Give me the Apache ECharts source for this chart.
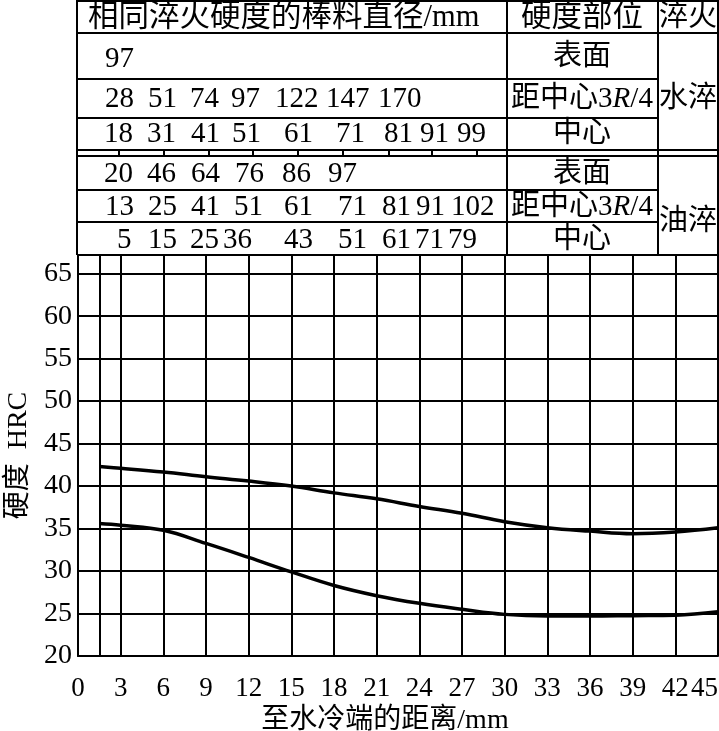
<!DOCTYPE html>
<html><head><meta charset="utf-8">
<script src="https://cdn.jsdelivr.net/npm/echarts@6/dist/echarts.min.js"></script>
<style>html,body{margin:0;padding:0;background:#fff}#c{width:719px;height:731px}</style>
</head><body><div id="c"></div>
<script>
// ---- data ----
const distances = [1.5, 3, 6, 9, 12, 15, 18, 21, 24, 27, 30, 33, 36, 39, 42, 45];
const upperHRC  = [42.3, 42.1, 41.65, 41.1, 40.6, 40.0, 39.2, 38.5, 37.6, 36.8, 35.8, 35.1, 34.7, 34.4, 34.6, 35.1];
const lowerHRC  = [35.6, 35.4, 34.8, 33.25, 31.6, 29.9, 28.3, 27.1, 26.2, 25.5, 24.9, 24.7, 24.7, 24.75, 24.8, 25.2];

const headerDiam = '相同淬火硬度的棒料直径/mm';
const headerPos = '硬度部位';
const headerQuench = '淬火';
const waterSurface = ['97'];
const waterR34 = ['28', '51', '74', '97', '122', '147', '170'];
const waterCenter = ['18', '31', '41', '51', '61', '71', '81', '91', '99'];
const oilSurface = ['20', '46', '64', '76', '86', '97'];
const oilR34 = ['13', '25', '41', '51', '61', '71', '81', '91', '102'];
const oilCenter = ['5', '15', '25', '36', '43', '51', '61', '71', '79'];
const posLabels = ['表面', '距中心3R/4', '中心'];
const quenchLabels = ['水淬', '油淬'];

// ---- layout (pixel positions of table text) ----
const L = {
  waterSurface: [105],
  waterR34: [105, 148, 190, 231, 275, 326, 378],
  waterCenter: [104, 147, 191, 232, 284, 336, 384, 420, 457],
  oilSurface: [104, 147, 191, 235, 282, 328],
  oilR34: [105, 148, 191, 234, 284, 338, 382, 416, 451],
  oilCenter: [117, 148, 190, 223, 284, 338, 382, 415, 448]
};
const rowY = { ws: 59, wr: 99, wc: 134, os: 174, or: 207, oc: 240 };
const dblTicks = [119, 164, 209, 253, 298, 343, 389, 432, 477];

const SERIF = '"Liberation Serif", "Noto Sans CJK SC", serif';
const lineStyle = { stroke: '#000', lineWidth: 2 };
const els = [];
function ln(x1, y1, x2, y2) {
  els.push({ type: 'line', z: 100, silent: true, shape: { x1, y1, x2, y2 }, style: lineStyle });
}
function tx(text, x, y, size, align, extra) {
  els.push({ type: 'text', z: 101, silent: true, x, y,
    style: Object.assign({ text, fontSize: size, fontFamily: SERIF, fill: '#000',
      align: align || 'left', verticalAlign: 'middle' }, extra || {}) });
}
// table lines
ln(77, 1, 719, 1);
ln(77, 33, 719, 33);
ln(77, 79, 658, 79);
ln(77, 118, 658, 118);
ln(77, 150, 719, 150);
ln(77, 156, 719, 156);
ln(77, 190, 658, 190);
ln(77, 222, 658, 222);
ln(77, 255, 719, 255);
ln(77, 0, 77, 255);
ln(507, 0, 507, 255);
ln(658, 0, 658, 255);
ln(718, 0, 718, 255);
dblTicks.forEach(x => ln(x, 150, x, 156));

// header
tx(headerDiam, 88, 18, 30.5);
tx(headerPos, 582, 18, 30.5, 'center');
tx(headerQuench, 688, 18, 29, 'center');
// numbers
const NUM = 29;
function row(vals, xs, y) { vals.forEach((v, i) => tx(v, xs[i], y, NUM)); }
row(waterSurface, L.waterSurface, rowY.ws);
row(waterR34, L.waterR34, rowY.wr);
row(waterCenter, L.waterCenter, rowY.wc);
row(oilSurface, L.oilSurface, rowY.os);
row(oilR34, L.oilR34, rowY.or);
row(oilCenter, L.oilCenter, rowY.oc);
// position labels
const rich = { c: { fontSize: 29, fontFamily: SERIF }, n: { fontSize: 29, fontFamily: SERIF },
  i: { fontSize: 29, fontFamily: SERIF, fontStyle: 'italic' } };
function posLabel(label, y) {
  if (label.indexOf('3R/4') >= 0) {
    tx('{c|距中心}{n|3}{i|R}{n|/4}', 582, y, 29, 'center', { rich });
  } else {
    tx(label, 582, y, 29, 'center');
  }
}
posLabel(posLabels[0], rowY.ws - 2);
posLabel(posLabels[1], rowY.wr);
posLabel(posLabels[2], rowY.wc);
posLabel(posLabels[0], rowY.os);
posLabel(posLabels[1], rowY.or);
posLabel(posLabels[2], rowY.oc);
tx(quenchLabels[0], 688, 99, 29, 'center');
tx(quenchLabels[1], 688, 222, 29, 'center');

const chart = echarts.init(document.getElementById('c'), null, { renderer: 'canvas' });
chart.setOption({
  backgroundColor: '#fff',
  animation: false,
  grid: { left: 78, right: 1, top: 255, bottom: 75, containLabel: false, outerBoundsMode: 'none' },
  xAxis: {
    type: 'value', min: 0, max: 45, interval: 3,
    axisLine: { show: true, lineStyle: { color: '#000', width: 2 } },
    axisTick: { show: false },
    splitLine: { show: true, lineStyle: { color: '#000', width: 2 } },
    axisLabel: { margin: 19, alignMaxLabel: 'right', color: '#000', fontSize: 27, fontFamily: SERIF },
    name: '至水冷端的距离/mm', nameLocation: 'middle', nameGap: 48,
    nameTextStyle: { color: '#000', fontSize: 28, fontFamily: SERIF, padding: [0, 26, 0, 0] }
  },
  yAxis: {
    type: 'value', min: 20, max: 67.2, interval: 5,
    axisLine: { show: true, lineStyle: { color: '#000', width: 2 } },
    axisTick: { show: false },
    splitLine: { show: true, lineStyle: { color: '#000', width: 2 } },
    axisLabel: { margin: 6, color: '#000', fontSize: 28, fontFamily: SERIF,
      formatter: v => (Math.abs(v % 5) < 1e-9 ? String(v) : '') },
    name: '{c|硬度}{s|  }{e|HRC}', nameLocation: 'middle', nameGap: 35, nameRotate: 90,
    nameTextStyle: { color: '#000', rich: {
      c: { fontSize: 28, fontFamily: SERIF, color: '#000' },
      s: { fontSize: 28, fontFamily: SERIF },
      e: { fontSize: 28, fontFamily: SERIF, color: '#000' } } }
  },
  series: [
    { type: 'line', data: distances.map((d, i) => [d, upperHRC[i]]), smooth: 0.4, symbol: 'none',
      lineStyle: { color: '#000', width: 3.5 }, z: 5,
      markLine: { silent: true, symbol: ['none', 'none'], label: { show: false },
        lineStyle: { color: '#000', width: 2, type: 'solid' }, data: [{ xAxis: 1.5 }] } },
    { type: 'line', data: distances.map((d, i) => [d, lowerHRC[i]]), smooth: 0.4, symbol: 'none',
      lineStyle: { color: '#000', width: 3.5 }, z: 5 }
  ],
  graphic: { elements: els }
});
</script></body></html>
